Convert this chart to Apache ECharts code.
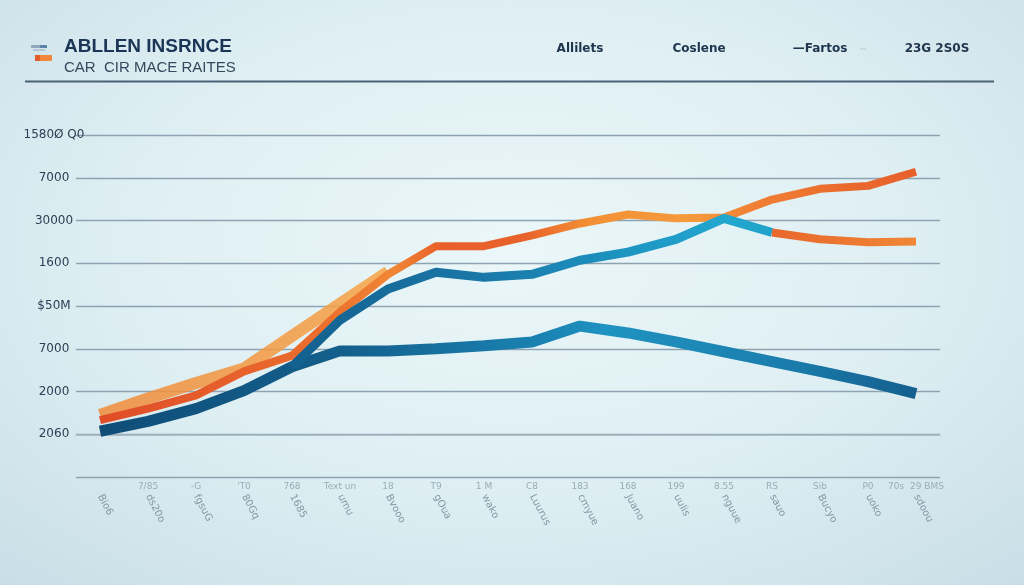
<!DOCTYPE html>
<html>
<head>
<meta charset="utf-8">
<script src="https://cdn.jsdelivr.net/npm/echarts@6/dist/echarts.min.js"></script>
<style>
  html, body { margin: 0; padding: 0; width: 1024px; height: 585px; overflow: hidden;
    background: radial-gradient(ellipse 75% 80% at 50% 42%, #ebf7f9 0%, #ddeef2 55%, #c8dde6 100%); }
  #chart { width: 1024px; height: 585px; }
</style>
</head>
<body>
<div id="chart"></div>
<script>
// ---- data ----
const categories = ["Bio6", "ds20o", "fgsuG", "80Gq", "1685", "umu", "Bvooo", "gOua", "wako",
  "Luurus", "cmyue", "Juano", "uulis", "nguue", "sauo", "Bucyo", "uoko", "sdoou"];
const topRowLabels = ["", "7/85", "-G", "'T0", "768", "Text un", "18", "T9", "1 M", "C8",
  "183", "168", "199", "8.55", "RS", "Sib", "P0", "70s  29 BMS"];
const yTickLabels = ["2060", "2000", "7000", "$50M", "1600", "30000", "7000", "1580\u00D8 Q0"];
const legendNames = ["Allilets", "Coslene", "\u2014Fartos", "23G 2S0S"];

const lowerBlue = [0.07, 0.30, 0.60, 1.02, 1.58, 1.95, 1.95, 2.00, 2.07, 2.16, 2.53, 2.37, 2.16, 1.93, 1.70, 1.47, 1.23, 0.95];
const upperBlue = [null, null, null, null, 1.58, 2.67, 3.40, 3.79, 3.67, 3.74, 4.07, 4.26, 4.56, 5.05, 4.72, null, null, null];
const topOrange = [0.33, 0.60, 0.91, 1.47, 1.84, 2.86, 3.74, 4.40, 4.40, 4.65, 4.93, 5.14, 5.05, 5.07, 5.49, 5.74, 5.81, 6.14];
const lightOrange = [0.45, 0.84, 1.20, 1.54, 2.30, 3.05, 3.80, null, null, null, null, null, null, null, null, null, null, null];
const lowerOrange = [null, null, null, null, null, null, null, null, null, null, null, null, null, null, 4.72, 4.56, 4.49, 4.51];

// ---- chart ----
const chart = echarts.init(document.getElementById('chart'), null, { renderer: 'canvas' });
const G = echarts.graphic.LinearGradient;

const legendX = [580, 699, 820, 937];

const option = {
  backgroundColor: 'transparent',
  animation: false,
  grid: { left: 76, right: 84, top: 135, bottom: 108 },
  xAxis: [
    {
      type: 'category', data: categories, boundaryGap: true, position: 'bottom',
      axisLine: { show: true, lineStyle: { color: '#a3b5c0', width: 1.5 } },
      axisTick: { show: false },
      axisLabel: { interval: 0, rotate: -62, margin: 18, color: '#8497a3', fontSize: 10,
        fontFamily: 'DejaVu Sans' }
    },
    {
      type: 'category', data: topRowLabels, boundaryGap: true, position: 'bottom',
      axisLine: { show: false }, axisTick: { show: false },
      axisLabel: { interval: 0, margin: 5, color: '#9aacb6', fontSize: 9, fontFamily: 'DejaVu Sans' }
    }
  ],
  yAxis: {
    type: 'value', min: -1, max: 7, interval: 1,
    axisLine: { show: false }, axisTick: { show: false },
    splitLine: { show: true, lineStyle: { color: '#8ea3b2', width: 1.4 } },
    axisLabel: {
      align: 'center', margin: 22, color: '#2b4057', fontSize: 12, fontWeight: 500,
      fontFamily: 'DejaVu Sans',
      formatter: v => (v < 0 ? '' : yTickLabels[Math.round(v)])
    }
  },
  series: [
    {
      name: 'Coslene', type: 'line', data: lowerBlue, symbol: 'none', z: 2,
      lineStyle: { width: 11, color: new G(0, 0, 1, 0, [
        { offset: 0, color: '#0f4d78' }, { offset: 0.3, color: '#145f8c' },
        { offset: 0.55, color: '#1a84b4' }, { offset: 0.62, color: '#1f93c1' },
        { offset: 0.82, color: '#1b7fae' }, { offset: 1, color: '#145e8d' }]) }
    },
    {
      name: 'Fartos ribbon', type: 'line', data: lightOrange, symbol: 'none', z: 3,
      lineStyle: { width: 12, opacity: 0.85, color: new G(0, 0, 1, 0, [
        { offset: 0, color: '#f08a3a' }, { offset: 1, color: '#f6a444' }]) }
    },
    {
      name: 'Fartos', type: 'line', data: topOrange, symbol: 'none', z: 4,
      lineStyle: { width: 8, color: new G(0, 0, 1, 0, [
        { offset: 0, color: '#df4b27' }, { offset: 0.28, color: '#ec6f2e' },
        { offset: 0.36, color: '#f08634' }, { offset: 0.42, color: '#e85f2a' },
        { offset: 0.52, color: '#e8622b' }, { offset: 0.6, color: '#f39035' },
        { offset: 0.72, color: '#f59a3c' }, { offset: 0.8, color: '#f08033' },
        { offset: 0.92, color: '#e9682c' }, { offset: 1, color: '#e8602c' }]) }
    },
    {
      name: 'Allilets', type: 'line', data: upperBlue, symbol: 'none', z: 5,
      lineStyle: { width: 9, color: new G(0, 0, 1, 0, [
        { offset: 0, color: '#13608d' }, { offset: 0.4, color: '#1a78a8' },
        { offset: 0.7, color: '#1d95c2' }, { offset: 0.9, color: '#22a7cf' },
        { offset: 1, color: '#20a2ca' }]) }
    },
    {
      name: '23G 2S0S', type: 'line', data: lowerOrange, symbol: 'none', z: 5,
      lineStyle: { width: 8, color: new G(0, 0, 1, 0, [
        { offset: 0, color: '#e9662c' }, { offset: 1, color: '#f08836' }]) }
    }
  ],
  graphic: [
    // logo mark
    { type: 'rect', shape: { x: 31, y: 45, width: 9, height: 3 }, style: { fill: '#8fa7be' } },
    { type: 'rect', shape: { x: 40, y: 45, width: 7, height: 3 }, style: { fill: '#5f84aa' } },
    { type: 'rect', shape: { x: 33, y: 49, width: 12, height: 2 }, style: { fill: '#b7c6d3' } },
    { type: 'rect', shape: { x: 35, y: 55, width: 17, height: 6, r: 1 }, style: { fill: '#f0873a' } },
    { type: 'rect', shape: { x: 35, y: 55, width: 5, height: 6 }, style: { fill: '#e35d2c' } },
    // title
    { type: 'text', x: 64, y: 47, style: { text: 'ABLLEN INSRNCE', fill: '#1b3557',
      font: 'bold 19px "Liberation Sans", Arial, sans-serif', verticalAlign: 'middle' } },
    { type: 'text', x: 64, y: 68, style: { text: 'CAR  CIR MACE RAITES', fill: '#34495e',
      font: '15px "Liberation Sans Narrow", "Liberation Sans", sans-serif', verticalAlign: 'middle' } },
    // header rule
    { type: 'line', shape: { x1: 25, y1: 81.5, x2: 994, y2: 81.5 }, style: { stroke: '#4a6176', lineWidth: 2 } },
    // legend-like texts
    ...legendNames.map((t, i) => ({ type: 'text', x: legendX[i], y: 49,
      style: { text: t, fill: '#20364f', font: 'bold 12px "DejaVu Sans", sans-serif',
        align: 'center', verticalAlign: 'middle' } })),
    { type: 'line', shape: { x1: 860, y1: 49, x2: 866, y2: 49 }, style: { stroke: '#b9c8d0', lineWidth: 1 } }
  ]
};
chart.setOption(option);
</script>
</body>
</html>
